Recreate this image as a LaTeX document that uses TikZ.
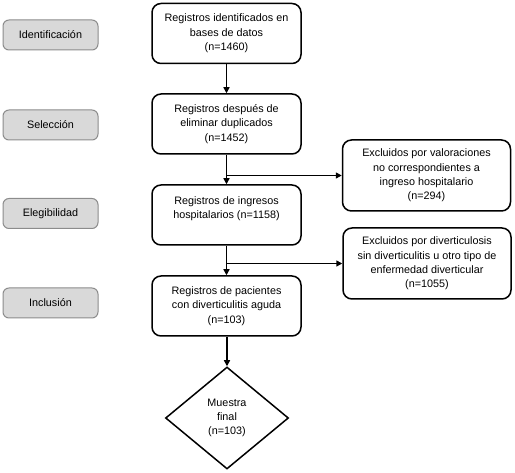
\documentclass[tikz,border=0pt]{standalone}
\usepackage{fontspec}
\setmainfont{Liberation Sans}
\usetikzlibrary{shapes.geometric,arrows.meta}
\definecolor{stagefill}{HTML}{D9D9D9}
\definecolor{stageline}{HTML}{8C8C8C}
\tikzset{
  stagebox/.style={draw=stageline, fill=stagefill, line width=1pt, rounded corners=6pt,
    minimum width=95pt, minimum height=30pt, inner sep=0pt, font=\fontsize{10.8}{14}\selectfont},
  mainbox/.style={draw, line width=1.5pt, rounded corners=9pt, minimum width=149pt,
    minimum height=60pt, inner sep=0pt, align=center, font=\fontsize{10.8}{14.3}\selectfont},
  exbox/.style={draw, line width=1.5pt, rounded corners=9pt, minimum width=168pt,
    minimum height=71pt, inner sep=0pt, align=center, font=\fontsize{10.8}{14.3}\selectfont},
  finalbox/.style={draw, line width=1.5pt, diamond, minimum width=123pt, minimum height=102pt,
    inner sep=0pt, align=center, font=\fontsize{10.8}{13.8}\selectfont},
  flow/.style={line width=1.5pt, -{Triangle[length=6pt,width=6pt]}},
}
\begin{document}
\begin{tikzpicture}[x=1pt,y=-1pt]
\useasboundingbox (0,0) rectangle (515,473);
% stages
\node[stagebox] (s1) at (50.5,35) {Identificación};
\node[stagebox] (s2) at (50.5,125) {Selección};
\node[stagebox] (s3) at (50.5,213.5) {Elegibilidad};
\node[stagebox] (s4) at (50.5,303) {Inclusión};
% main flow
\node[mainbox] (b1) at (226.5,33.5) {Registros identificados en\\bases de datos\\(n=1460)};
\node[mainbox] (b2) at (226.5,124) {Registros después de\\eliminar duplicados\\(n=1452)};
\node[mainbox] (b3) at (226.5,215) {Registros de ingresos\\hospitalarios (n=1158)\\\mbox{}};
\node[mainbox] (b4) at (226.5,306) {Registros de pacientes\\con diverticulitis aguda\\(n=103)};
\node[finalbox] (f) at (227,418) {Muestra\\final\\(n=103)};
% exclusions
\node[exbox] (e1) at (426.5,175.5) {Excluidos por valoraciones\\no correspondientes a\\ingreso hospitalario\\(n=294)};
\node[exbox] (e2) at (427,263.5) {Excluidos por diverticulosis\\sin diverticulitis u otro tipo de\\enfermedad diverticular\\(n=1055)};
% connectors
\draw[flow] (b1) -- (b2);
\draw[flow] (b2) -- (b3);
\draw[flow] (b3) -- (b4);
\draw[flow] (b4.south -| f.north) -- (f.north);
\draw[flow] (b2.south |- e1.west) -- (e1.west);
\draw[flow] (b3.south |- e2.west) -- (e2.west);
\end{tikzpicture}
\end{document}
